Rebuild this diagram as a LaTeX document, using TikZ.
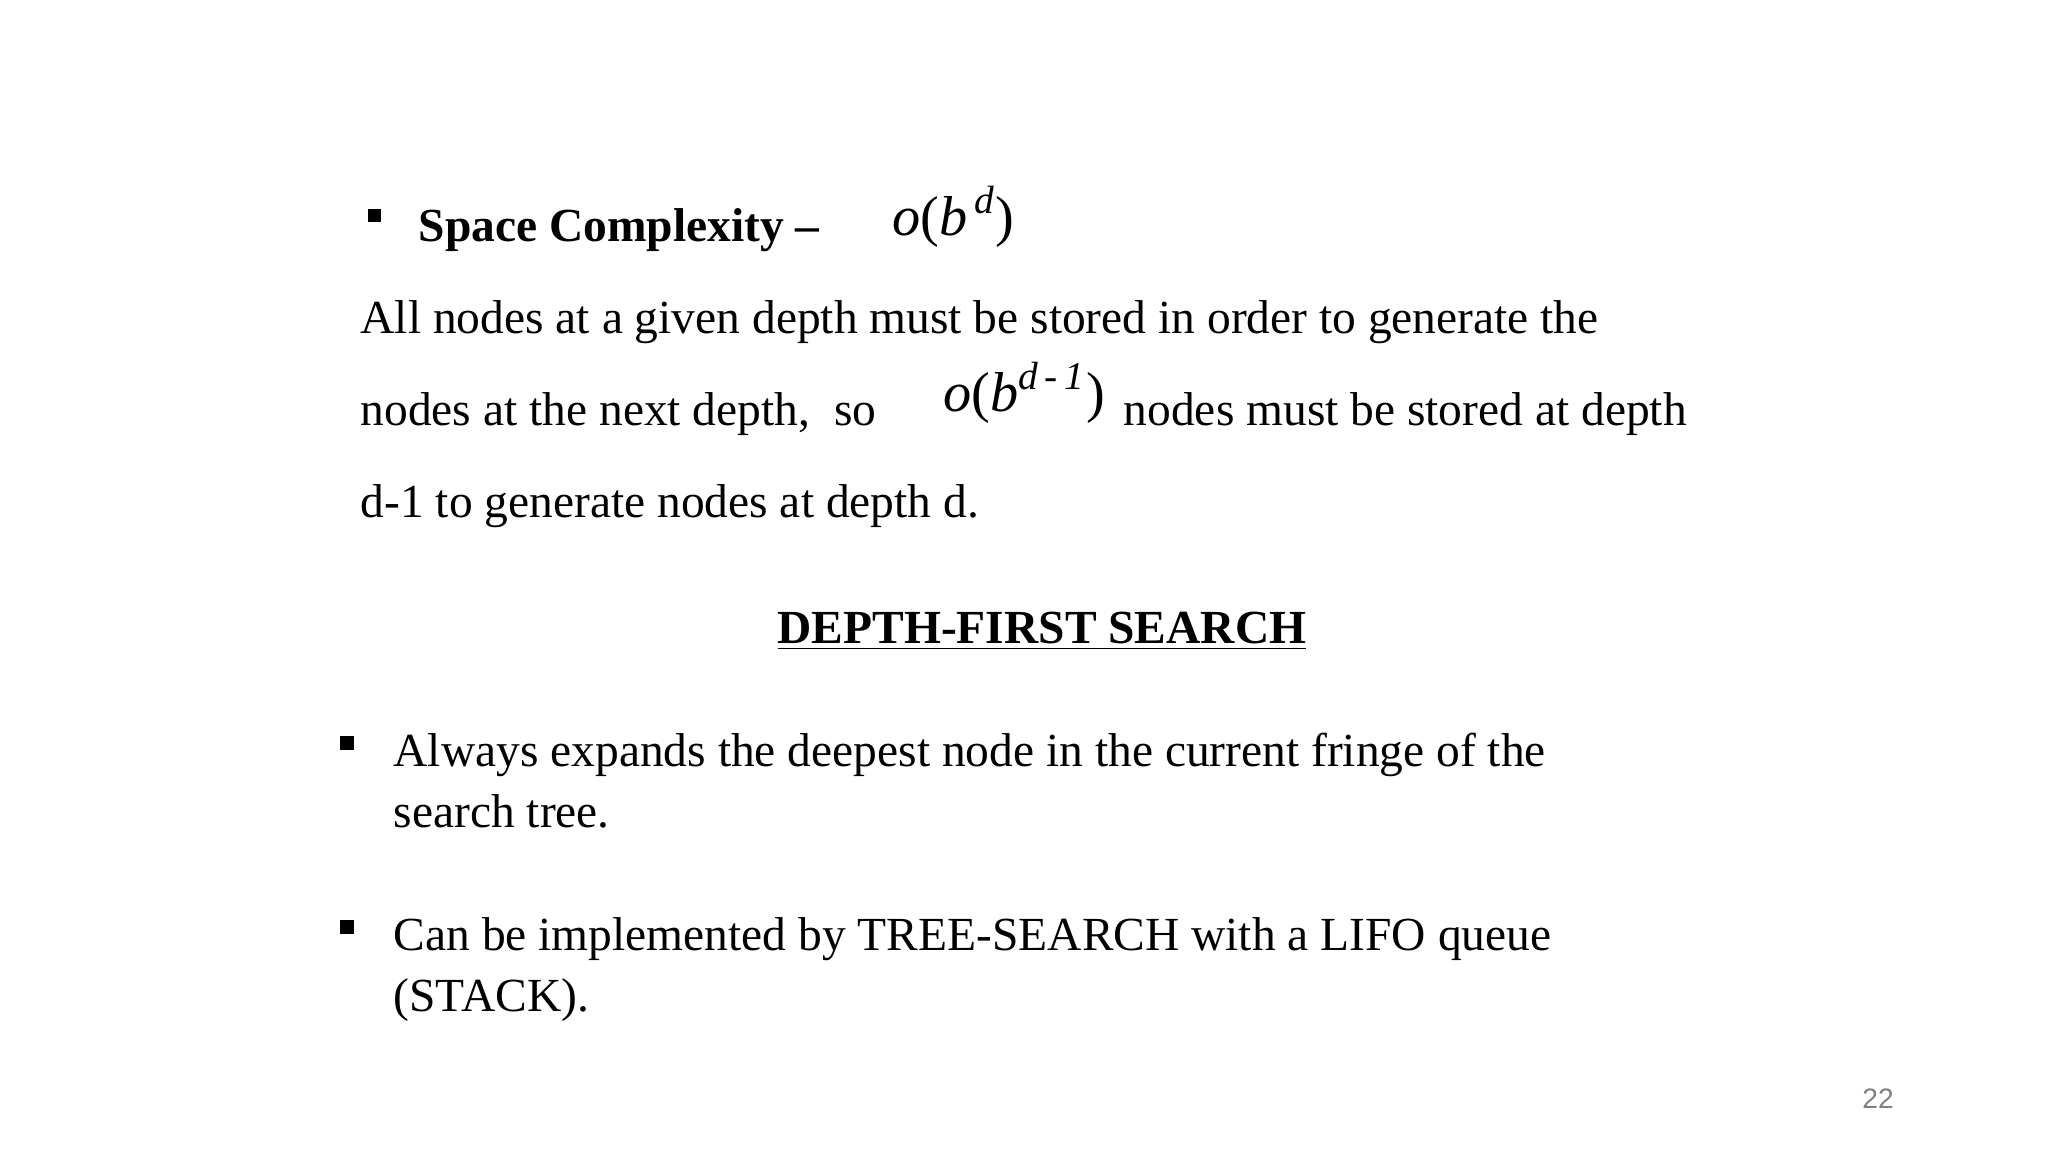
\documentclass[tikz,border=0pt]{standalone}
\usepackage{fontspec}
\setmainfont{Liberation Serif}
\newfontfamily\pgnum{Liberation Sans}
\begin{document}
\begin{tikzpicture}[x=0.01cm,y=-0.01cm,
  txt/.style={anchor=base west,inner sep=0pt,font=\fontsize{13.5}{16}\selectfont},
  mth/.style={anchor=base west,inner sep=0pt,font=\fontsize{16}{18}\selectfont},
  bul/.style={fill=black,minimum size=0.13cm,inner sep=0pt}]
\useasboundingbox (0,0) rectangle (2048,1152);
\node[bul] (b1) at (374,216) {};
\node[txt] (t1) at (418,242) {\bfseries Space Complexity --};
\node[mth] (m1) at (892,236) {\itshape o\upshape(\itshape b\textsuperscript{\,d}\upshape)};
\node[txt] (l1) at (360,334) {All nodes at a given depth must be stored in order to generate the};
\node[txt] (l2) at (360,426) {nodes at the next depth,\ \ so};
\node[mth] (m2) at (943,412) {\itshape o\upshape(\itshape b\textsuperscript{d\,-\,1}\upshape)};
\node[txt] (l2b) at (1123,426) {nodes must be stored at depth};
\node[txt] (l3) at (360,518) {d-1 to generate nodes at depth d.};
\node[txt,anchor=base] (h) at (1042,643) {\bfseries\underline{DEPTH-FIRST SEARCH}};
\node[bul] (b2) at (347,743) {};
\node[txt] (a1) at (393,766) {Always expands the deepest node in the current fringe of the};
\node[txt] (a2) at (393,827) {search tree.};
\node[bul] (b3) at (347,927) {};
\node[txt] (c1) at (393,950) {Can be implemented by TREE-SEARCH with a LIFO queue};
\node[txt] (c2) at (393,1011) {(STACK).};
\node[anchor=base,inner sep=0pt,text=gray,font=\pgnum\fontsize{8}{9}\selectfont] (p) at (1878,1108) {22};
\end{tikzpicture}
\end{document}
